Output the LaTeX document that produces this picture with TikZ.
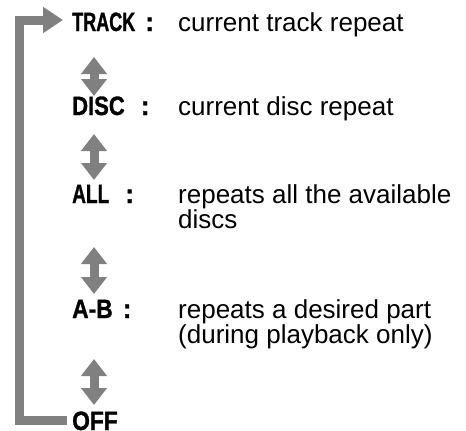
\documentclass[tikz,border=0pt]{standalone}
\usepackage{fontspec}
\setmainfont{Liberation Sans}
\newfontfamily\keyfont[BoldFeatures={FakeBold=1.2}]{Liberation Sans}
\usetikzlibrary{arrows.meta}
\definecolor{arrgray}{RGB}{128,128,128}
\newcommand{\kw}[2]{\scalebox{#1}[1]{#2}}
\begin{document}
\begin{tikzpicture}[x=1pt,y=-1pt,
  key/.style={font=\keyfont\bfseries\fontsize{26.5}{26}\selectfont, inner sep=0pt, anchor=base west},
  desc/.style={font=\fontsize{26}{25}\selectfont, inner sep=0pt, anchor=base west, align=left},
  updown/.style={draw=arrgray, line width=9pt, {Triangle[length=17pt,width=25pt]}-{Triangle[length=17pt,width=25pt]}},
  loopline/.style={draw=arrgray, line width=9pt, -{Triangle[length=20pt,width=25pt]}}]
\useasboundingbox (0,0) rectangle (466,431);
\coordinate (ax) at (94,0);
\coordinate (lc) at (19,20);
% keys
\node[key] (track) at (72,31) {\kw{0.68}{TRACK}\hspace{10pt}:};
\node[key] (disc) at (72,115) {\kw{0.83}{DISC}\hspace{16pt}:};
\node[key] (all) at (72,203) {\kw{0.72}{ALL}\hspace{16pt}:};
\node[key] (ab) at (72,318) {\kw{0.86}{A-B}\hspace{10pt}:};
\node[key] (off) at (72,430) {\kw{0.86}{OFF}};
% descriptions (anchored at the baseline of the last line)
\node[desc] (dtrack) at (178,31) {current track repeat};
\node[desc] (ddisc) at (178,115) {current disc repeat};
\node[desc] (dall) at (178,228) {repeats all the available\\discs};
\node[desc] (dab) at (178,343) {repeats a desired part\\(during playback only)};
% up/down arrows
\draw[updown, shorten <=26pt, shorten >=19pt] (track.base -| ax) -- (disc.base -| ax);
\draw[updown, shorten <=19pt, shorten >=23pt] (disc.base -| ax) -- (all.base -| ax);
\draw[updown, shorten <=44pt, shorten >=24pt] (all.base -| ax) -- (ab.base -| ax);
\draw[updown, shorten <=41pt, shorten >=25pt] (ab.base -| ax) -- (off.base -| ax);
% loop
\draw[loopline, shorten <=5pt, shorten >=9pt] (off.west) -| (lc) -- (lc -| track.west);
\end{tikzpicture}
\end{document}
